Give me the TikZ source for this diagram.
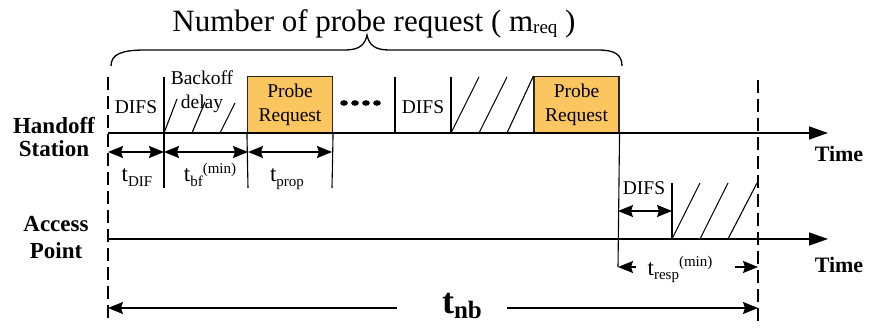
\documentclass[tikz,border=0pt]{standalone}
\usepackage{fontspec}
\setmainfont{Liberation Serif}
\usetikzlibrary{arrows.meta}
\definecolor{probefill}{HTML}{FBC560}

% small lowered / raised text that keeps a fixed size
\newcommand\subtxt[2][15]{\raisebox{-4.5pt}{\fontsize{#1}{#1}\selectfont #2}}
\newcommand\suptxt[2][15]{\raisebox{9pt}{\fontsize{#1}{#1}\selectfont #2}}
% a time symbol: a large t followed by its indices
\newcommand\tsym{{\fontsize{23}{23}\selectfont t}}

\tikzset{
  axisline/.style={line width=1.3pt,-{Triangle[length=19pt,width=13pt]}},
  edgeline/.style={line width=1.1pt},
  hatchline/.style={line width=1.1pt},
  guideline/.style={line width=2pt,dash pattern=on 13pt off 6pt},
  dimboth/.style={line width=1.2pt,{Stealth[length=15pt,width=12pt,inset=2pt]}-{Stealth[length=15pt,width=12pt,inset=2pt]}},
  dimleft/.style={line width=1.2pt,{Stealth[length=15pt,width=12pt,inset=2pt]}-},
  dimright/.style={line width=1.2pt,-{Stealth[length=15pt,width=12pt,inset=2pt]}},
  probebox/.style={draw=black!85,line width=1.1pt,fill=probefill,minimum width=85pt,
    minimum height=57pt,inner sep=0pt,align=center,
    font=\fontsize{19.5}{24}\selectfont},
  txt/.style={inner sep=0pt,font=\fontsize{19.5}{24}\selectfont},
  boldlbl/.style={inner sep=0pt,align=center,font=\fontsize{23}{23}\selectfont\bfseries},
}

\begin{document}
\begin{tikzpicture}[x=1pt,y=-1pt]
\useasboundingbox (0,0) rectangle (873,334);

% ---- title and brace ----
\node[anchor=base,inner sep=0pt,font=\fontsize{31}{32}\selectfont] (title) at (374,32)
  {Number of probe request ( m\raisebox{-2pt}{\fontsize{19}{19}\selectfont req} )};
\coordinate (brL) at (111,66);
\coordinate (brTip) at (367,35);
\coordinate (brR) at (622,66);
\draw[line width=1.3pt] (brL) .. controls (111,54) and (122,50) .. (145,50) -- (345,50)
  .. controls (359,50) and (365,45) .. (brTip)
  .. controls (369,45) and (375,50) .. (389,50) -- (598,50)
  .. controls (614,50) and (622,54) .. (brR);

% ---- station labels ----
\node[boldlbl,font=\fontsize{23}{23}\selectfont\bfseries] (hs) at (54,137) {Handoff\\Station};
\node[boldlbl,font=\fontsize{23}{27}\selectfont\bfseries] (ap) at (56,238) {Access\\Point};
\node[boldlbl,anchor=base,font=\fontsize{22}{23}\selectfont\bfseries] (time1) at (839,161) {Time};
\node[boldlbl,anchor=base,font=\fontsize{22}{23}\selectfont\bfseries] (time2) at (839,272) {Time};

% ---- key points ----
\coordinate (hsA) at (108,133);  \coordinate (hsB) at (828,133);
\coordinate (apA) at (108,239);  \coordinate (apB) at (828,239);
\coordinate (gL0) at (108,77);   \coordinate (gL1) at (108,322);
\coordinate (gR0) at (758,80);   \coordinate (gR1) at (758,322);

% ---- handoff station row ----
\node[probebox] (pr1) at (290,105) {Probe\\Request};
\node[probebox] (pr2) at (576.5,105) {Probe\\Request};

\coordinate (v1t) at (164,77);  \coordinate (v1b) at (164,188);
\coordinate (v2b) at (248,188); \coordinate (v3b) at (332,188);
\coordinate (v4t) at (395,77);  \coordinate (v4b) at (395,133);
\coordinate (v5t) at (451,77);  \coordinate (v5b) at (451,133);

\draw[edgeline] (v1t) -- (v1b);
\draw[edgeline] (pr1.south west) -- (v2b);
\draw[edgeline] (pr1.south east) -- (v3b);
\draw[edgeline] (v4t) -- (v4b);
\draw[edgeline] (v5t) -- (v5b);

\node[txt] (difs1) at (136,107) {DIFS};
\node[txt,align=center] (bkoff) at (202,92) {Backoff\\delay};
\node[txt] (difs2) at (423,107) {DIFS};

% dots standing for the repeated requests
\foreach \dx in {344,355,366,377}
  \fill (\dx,103) ellipse (3.8pt and 2.8pt);

% back-off hatching
\draw[hatchline] (164,133) -- (177,99);
\draw[hatchline] (192,133) -- (205,102);
\draw[hatchline] (220,133) -- (235,103);
\draw[hatchline] (451,133) -- (479,77);
\draw[hatchline] (479,133) -- (507,77);
\draw[hatchline] (507,133) -- (pr2.north west);

% durations under the station axis
\coordinate (d0) at (108,152); \coordinate (d1) at (164,152);
\coordinate (d2) at (248,152); \coordinate (d3) at (332,152);
\draw[dimboth] (d0) -- (d1);
\draw[dimboth] (d1) -- (d2);
\draw[dimboth] (d2) -- (d3);
\node[txt,anchor=base] (tdif) at (137,182) {\tsym\subtxt{DIF}};
\node[txt,anchor=base] (tbf) at (210,182) {\tsym\subtxt{bf}\suptxt{(min)}};
\node[txt,anchor=base] (tprop) at (287,182) {\tsym\subtxt{prop}};

% ---- access point row ----
\coordinate (rsp) at (618,267);
\draw[edgeline] (pr2.south east) -- (rsp);
\coordinate (v6t) at (672,183); \coordinate (v6b) at (672,239);
\draw[edgeline] (v6t) -- (v6b);
\coordinate (dA) at (618,211); \coordinate (dB) at (672,211);
\draw[dimboth] (dA) -- (dB);
\node[txt] (difs3) at (644,188) {DIFS};

\draw[hatchline] (672,239) -- (700,183);
\draw[hatchline] (700,239) -- (728,183);
\draw[hatchline] (728,239) -- (757,183);

\node[txt,anchor=base] (tresp) at (680,275) {\tsym\subtxt{resp}\suptxt{(min)}};
\coordinate (rspR) at (758,267);
\coordinate (rspLi) at (636,267);
\coordinate (rspRi) at (735,267);
\draw[dimleft] (rsp) -- (rspLi);
\draw[dimright] (rspRi) -- (rspR);

% ---- time axes ----
\draw[axisline] (hsA) -- (hsB);
\draw[axisline] (apA) -- (apB);

% ---- guides and overall delay ----
\draw[guideline] (gL0) -- (gL1);
\draw[guideline] (gR0) -- (gR1);

\coordinate (nbL) at (108,308); \coordinate (nbR) at (758,308);
\coordinate (nbLi) at (397,308); \coordinate (nbRi) at (507,308);
\draw[dimleft] (nbL) -- (nbLi);
\draw[dimright] (nbRi) -- (nbR);
\node[inner sep=0pt,anchor=base,font=\fontsize{36}{36}\selectfont\bfseries] (tnb) at (462,313)
  {t\raisebox{-5pt}{\fontsize{25}{25}\selectfont nb}};
\end{tikzpicture}
\end{document}
